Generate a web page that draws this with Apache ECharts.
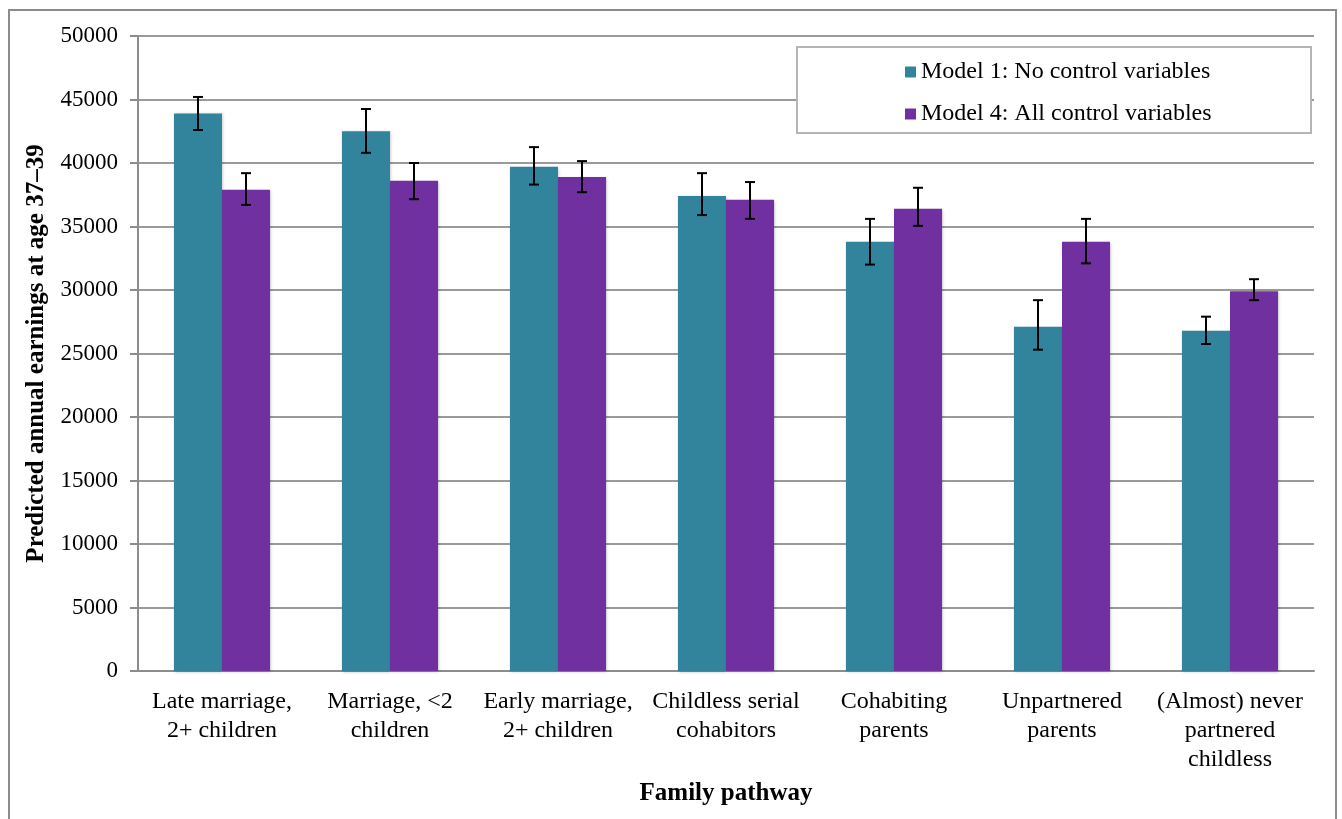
<!DOCTYPE html>
<html>
<head>
<meta charset="utf-8">
<script src="https://cdn.jsdelivr.net/npm/echarts@6/dist/echarts.min.js"></script>
<style>
  html, body { margin: 0; padding: 0; background: #ffffff; }
  #chart { width: 1342px; height: 819px; }
</style>
</head>
<body>
<div id="chart"></div>
<script>
// Family pathway categories
const categories = [
  'Late marriage,\n2+ children',
  'Marriage, <2\nchildren',
  'Early marriage,\n2+ children',
  'Childless serial\ncohabitors',
  'Cohabiting\nparents',
  'Unpartnered\nparents',
  '(Almost) never\npartnered\nchildless'
];

// Predicted annual earnings at age 37–39
const model1Values = [43900, 42500, 39700, 37400, 33800, 27100, 26800];
const model4Values = [37900, 38600, 38900, 37100, 36400, 33800, 29900];

// Confidence interval bounds (low / high)
const model1Low  = [42600, 40800, 38300, 35900, 32000, 25300, 25750];
const model1High = [45200, 44250, 41250, 39200, 35600, 29200, 27900];
const model4Low  = [36700, 37150, 37700, 35600, 35050, 32100, 29200];
const model4High = [39200, 40000, 40150, 38500, 38050, 35600, 30850];

const yTicks = [0, 5000, 10000, 15000, 20000, 25000, 30000, 35000, 40000, 45000, 50000];

const seriesNames = ['Model 1: No control variables', 'Model 4: All control variables'];
const colors = ['#31849B', '#7030A0'];

const FONT = 'Liberation Serif';
const BAR_SHARE = 0.286; // bar width as a share of the category band

function errorData(low, high) {
  return low.map((l, i) => [i, l, high[i]]);
}

function errorRenderer(side) {
  return function (params, api) {
    const i = api.value(0);
    const band = api.size([1, 0])[0];
    const offset = side * band * BAR_SHARE / 2;
    const lo = api.coord([i, api.value(1)]);
    const hi = api.coord([i, api.value(2)]);
    const x = lo[0] + offset;
    const cap = 5;
    const style = { stroke: '#000', lineWidth: 2 };
    return {
      type: 'group',
      children: [
        { type: 'line', shape: { x1: x, y1: hi[1], x2: x, y2: lo[1] }, style },
        { type: 'line', shape: { x1: x - cap, y1: hi[1], x2: x + cap, y2: hi[1] }, style },
        { type: 'line', shape: { x1: x - cap, y1: lo[1], x2: x + cap, y2: lo[1] }, style }
      ]
    };
  };
}

const barShadow = {
  shadowColor: 'rgba(0,0,0,0.25)',
  shadowBlur: 3,
  shadowOffsetX: 1,
  shadowOffsetY: 1
};

const chart = echarts.init(document.getElementById('chart'), null, { renderer: 'canvas' });

chart.setOption({
  animation: false,
  backgroundColor: '#ffffff',
  textStyle: { fontFamily: FONT, color: '#000' },
  grid: { left: 138, right: 28, top: 36, bottom: 148, containLabel: false },
  legend: {
    orient: 'vertical',
    left: 900,
    top: 55,
    itemWidth: 11,
    itemHeight: 11,
    itemGap: 18,
    icon: 'rect',
    textStyle: { fontFamily: FONT, fontSize: 24, lineHeight: 24, color: '#000' },
    data: seriesNames
  },
  graphic: [
    {
      type: 'rect',
      shape: { x: 9, y: 10, width: 1327, height: 830 },
      style: { fill: 'none', stroke: '#8c8c8c', lineWidth: 2 },
      silent: true,
      z: -1
    },
    {
      type: 'rect',
      shape: { x: 797, y: 47, width: 514, height: 86 },
      style: { fill: '#ffffff', stroke: '#b5b5b5', lineWidth: 2 },
      silent: true,
      z: 1
    }
  ],
  xAxis: {
    type: 'category',
    data: categories,
    name: 'Family pathway',
    nameLocation: 'middle',
    nameGap: 110,
    nameTextStyle: { fontFamily: FONT, fontSize: 25, fontWeight: 'bold', color: '#000' },
    axisLine: { lineStyle: { color: '#8c8c8c', width: 2 } },
    axisTick: { length: 8, lineStyle: { color: '#8c8c8c', width: 2 } },
    axisLabel: {
      interval: 0,
      margin: 16,
      fontFamily: FONT,
      fontSize: 24,
      lineHeight: 29,
      color: '#000'
    }
  },
  yAxis: {
    type: 'value',
    min: 0,
    max: 50000,
    interval: 5000,
    name: 'Predicted annual earnings at age 37–39',
    nameLocation: 'middle',
    nameGap: 89,
    nameTextStyle: { fontFamily: FONT, fontSize: 25, fontWeight: 'bold', color: '#000' },
    axisLine: { show: true, lineStyle: { color: '#8c8c8c', width: 2 } },
    axisTick: { show: true, length: 8, lineStyle: { color: '#8c8c8c', width: 2 } },
    axisLabel: {
      margin: 20,
      fontFamily: FONT,
      fontSize: 23,
      color: '#000',
      formatter: v => (yTicks.includes(v) ? String(v) : '')
    },
    splitLine: { lineStyle: { color: '#9a9a9a', width: 2 } }
  },
  series: [
    {
      name: seriesNames[0],
      type: 'bar',
      data: model1Values,
      barWidth: (BAR_SHARE * 100) + '%',
      barGap: '0%',
      itemStyle: Object.assign({ color: colors[0] }, barShadow),
      z: 2
    },
    {
      name: seriesNames[1],
      type: 'bar',
      data: model4Values,
      barWidth: (BAR_SHARE * 100) + '%',
      barGap: '0%',
      itemStyle: Object.assign({ color: colors[1] }, barShadow),
      z: 2
    },
    {
      type: 'custom',
      name: 'model1-ci',
      data: errorData(model1Low, model1High),
      renderItem: errorRenderer(-1),
      encode: { x: 0, y: [1, 2] },
      z: 3,
      silent: true
    },
    {
      type: 'custom',
      name: 'model4-ci',
      data: errorData(model4Low, model4High),
      renderItem: errorRenderer(1),
      encode: { x: 0, y: [1, 2] },
      z: 3,
      silent: true
    }
  ]
});
</script>
</body>
</html>
